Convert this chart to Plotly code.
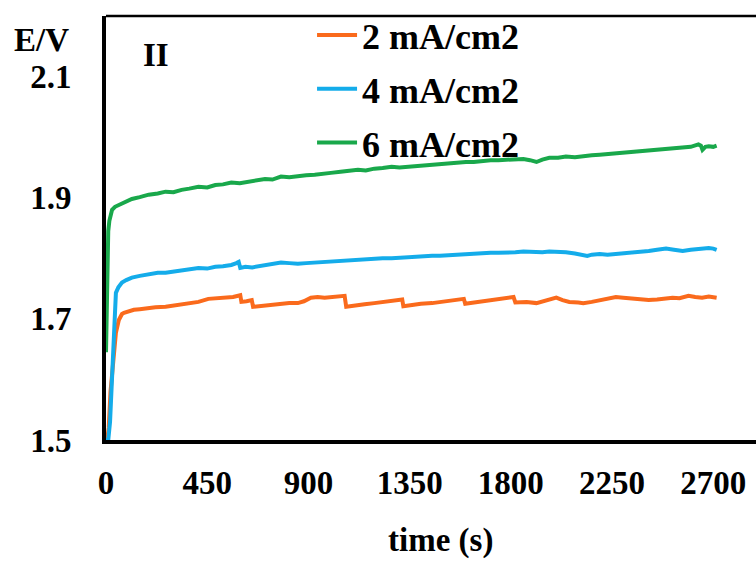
import plotly.graph_objects as go

# ---------------- data ----------------
series_names = ["2 mA/cm2", "4 mA/cm2", "6 mA/cm2"]
series_colors = ["#FA6A1C", "#14ACEA", "#19A84B"]

t_2mA = [0, 5, 12, 20, 30, 35, 38, 44, 57, 71, 80, 100, 124, 150, 181, 220, 265, 300, 336, 370,
         411, 455, 490, 530, 565, 597, 602, 625, 648, 654, 680, 707, 740, 778, 815, 853, 880, 911,
         941, 972, 1010, 1040, 1061, 1068, 1100, 1150, 1193, 1230, 1270, 1317, 1322, 1360, 1400,
         1450, 1485, 1530, 1560, 1591, 1597, 1640, 1680, 1706, 1750, 1790, 1812, 1820, 1850, 1870,
         1914, 1950, 1980, 2002, 2030, 2060, 2100, 2122, 2160, 2200, 2240, 2267, 2300, 2343, 2380,
         2413, 2450, 2490, 2519, 2550, 2590, 2620, 2650, 2680, 2700, 2715]
E_2mA = [1.500, 1.500, 1.520, 1.580, 1.620, 1.637, 1.645, 1.677, 1.698, 1.708, 1.710, 1.713, 1.715,
         1.716, 1.718, 1.719, 1.720, 1.722, 1.725, 1.726, 1.728, 1.733, 1.734, 1.735, 1.736, 1.739,
         1.728, 1.729, 1.731, 1.720, 1.721, 1.722, 1.723, 1.725, 1.726, 1.726, 1.729, 1.735, 1.736,
         1.735, 1.736, 1.737, 1.738, 1.720, 1.722, 1.724, 1.726, 1.728, 1.730, 1.732, 1.721, 1.723,
         1.725, 1.726, 1.728, 1.730, 1.732, 1.733, 1.725, 1.727, 1.729, 1.730, 1.733, 1.735, 1.736,
         1.727, 1.727, 1.728, 1.726, 1.729, 1.732, 1.735, 1.731, 1.728, 1.727, 1.726, 1.728, 1.731,
         1.733, 1.736, 1.735, 1.733, 1.731, 1.731, 1.732, 1.734, 1.735, 1.734, 1.738, 1.736, 1.735,
         1.737, 1.736, 1.735]

t_4mA = [0, 10, 18, 27, 35, 40, 44, 55, 71, 90, 115, 150, 190, 230, 265, 300, 336, 370, 411, 450,
         486, 520, 557, 580, 590, 597, 620, 650, 680, 707, 740, 778, 815, 853, 890, 928, 965, 1000,
         1043, 1080, 1120, 1155, 1193, 1230, 1270, 1305, 1339, 1375, 1410, 1450, 1485, 1520, 1560,
         1600, 1635, 1670, 1710, 1745, 1781, 1820, 1856, 1900, 1940, 1971, 2010, 2045, 2085, 2122,
         2140, 2160, 2195, 2230, 2267, 2305, 2340, 2375, 2413, 2450, 2490, 2525, 2564, 2600, 2640,
         2680, 2700, 2715]
E_4mA = [1.500, 1.500, 1.530, 1.600, 1.680, 1.720, 1.743, 1.752, 1.760, 1.764, 1.768, 1.771, 1.773,
         1.776, 1.776, 1.778, 1.779, 1.781, 1.784, 1.783, 1.786, 1.787, 1.789, 1.792, 1.794, 1.784,
         1.786, 1.785, 1.787, 1.789, 1.790, 1.793, 1.792, 1.791, 1.792, 1.793, 1.793, 1.795, 1.796,
         1.797, 1.797, 1.798, 1.799, 1.800, 1.800, 1.801, 1.802, 1.802, 1.803, 1.804, 1.804, 1.805,
         1.806, 1.807, 1.807, 1.808, 1.809, 1.809, 1.809, 1.810, 1.811, 1.810, 1.810, 1.811, 1.811,
         1.810, 1.808, 1.805, 1.804, 1.806, 1.807, 1.806, 1.807, 1.808, 1.810, 1.811, 1.812, 1.814,
         1.816, 1.814, 1.812, 1.814, 1.816, 1.817, 1.816, 1.814]

t_6mA = [0, 3, 6, 10, 15, 20, 27, 40, 57, 80, 115, 150, 190, 230, 265, 300, 336, 370, 411, 450,
         486, 520, 557, 595, 632, 670, 707, 740, 778, 815, 853, 890, 928, 965, 1000, 1043, 1080,
         1120, 1155, 1193, 1230, 1270, 1305, 1339, 1375, 1410, 1450, 1485, 1520, 1560, 1600, 1635,
         1670, 1710, 1745, 1781, 1820, 1856, 1885, 1914, 1940, 1971, 2010, 2045, 2085, 2122, 2160,
         2195, 2230, 2267, 2305, 2340, 2375, 2413, 2450, 2490, 2525, 2564, 2600, 2634, 2645, 2652,
         2665, 2680, 2700, 2715]
E_6mA = [1.645, 1.700, 1.800, 1.845, 1.862, 1.872, 1.880, 1.885, 1.888, 1.893, 1.898, 1.901, 1.905,
         1.907, 1.910, 1.909, 1.913, 1.915, 1.918, 1.917, 1.921, 1.922, 1.925, 1.924, 1.926, 1.929,
         1.931, 1.930, 1.935, 1.934, 1.936, 1.937, 1.938, 1.939, 1.941, 1.943, 1.944, 1.946, 1.945,
         1.948, 1.949, 1.951, 1.950, 1.951, 1.953, 1.954, 1.955, 1.956, 1.957, 1.957, 1.959, 1.959,
         1.961, 1.962, 1.962, 1.963, 1.964, 1.964, 1.962, 1.959, 1.963, 1.966, 1.966, 1.968, 1.967,
         1.969, 1.970, 1.971, 1.972, 1.974, 1.974, 1.976, 1.977, 1.978, 1.979, 1.980, 1.981, 1.983,
         1.984, 1.988, 1.986, 1.979, 1.984, 1.985, 1.984, 1.986]

x_ticks = [0, 450, 900, 1350, 1800, 2250, 2700]
y_ticks = [1.5, 1.7, 1.9, 2.1]
x_title = "time (s)"
y_title = "E/V"
panel_label = "II"

# ---------------- figure ----------------
FONT = "Liberation Serif"
fig = go.Figure()
for name, color, tx, ey in zip(series_names, series_colors,
                               [t_2mA, t_4mA, t_6mA], [E_2mA, E_4mA, E_6mA]):
    fig.add_trace(go.Scatter(x=tx, y=ey, mode="lines", name=name, legendgroup=name,
                             line=dict(color=color, width=4)))

fig.update_layout(
    width=756, height=561,
    margin=dict(l=106, r=0, t=16, b=121),
    paper_bgcolor="white", plot_bgcolor="white",
    font=dict(family=FONT, color="black", size=32),
    showlegend=True,
    legend=dict(x=0.317, y=1.026, xanchor="left", yanchor="top",
                bgcolor="rgba(0,0,0,0)", tracegroupgap=4,
                font=dict(family=FONT, size=36, weight="bold", color="black"),
                itemwidth=40),
    xaxis=dict(range=[0, 2890], tickvals=x_ticks, ticktext=[str(v) for v in x_ticks],
               showgrid=False, zeroline=False, showline=True, linecolor="black",
               linewidth=4, ticks="", ticklabelstandoff=10,
               tickfont=dict(family=FONT, size=33, weight="bold", color="black")),
    yaxis=dict(range=[1.5, 2.2], tickvals=y_ticks, ticktext=["1.5", "1.7", "1.9", "2.1"],
               showgrid=False, zeroline=False, showline=True, linecolor="black",
               linewidth=4, ticks="", ticklabelstandoff=24,
               tickfont=dict(family=FONT, size=33, weight="bold", color="black")),
    shapes=[dict(type="line", xref="paper", yref="paper", x0=0, x1=1, y0=1, y1=1,
                 line=dict(color="black", width=2.5))],
    annotations=[
        dict(text=x_title, xref="paper", yref="paper", x=0.514, y=-0.285,
             xanchor="center", yanchor="bottom", showarrow=False,
             font=dict(family=FONT, size=33, weight="bold", color="black")),
        dict(text=y_title, xref="paper", yref="paper", x=-0.1, y=0.943,
             xanchor="center", yanchor="middle", showarrow=False,
             font=dict(family=FONT, size=33, weight="bold", color="black")),
        dict(text=panel_label, xref="paper", yref="paper", x=0.077, y=0.908,
             xanchor="center", yanchor="middle", showarrow=False,
             font=dict(family=FONT, size=33, weight="bold", color="black")),
    ],
)

fig.write_html("out.html")
